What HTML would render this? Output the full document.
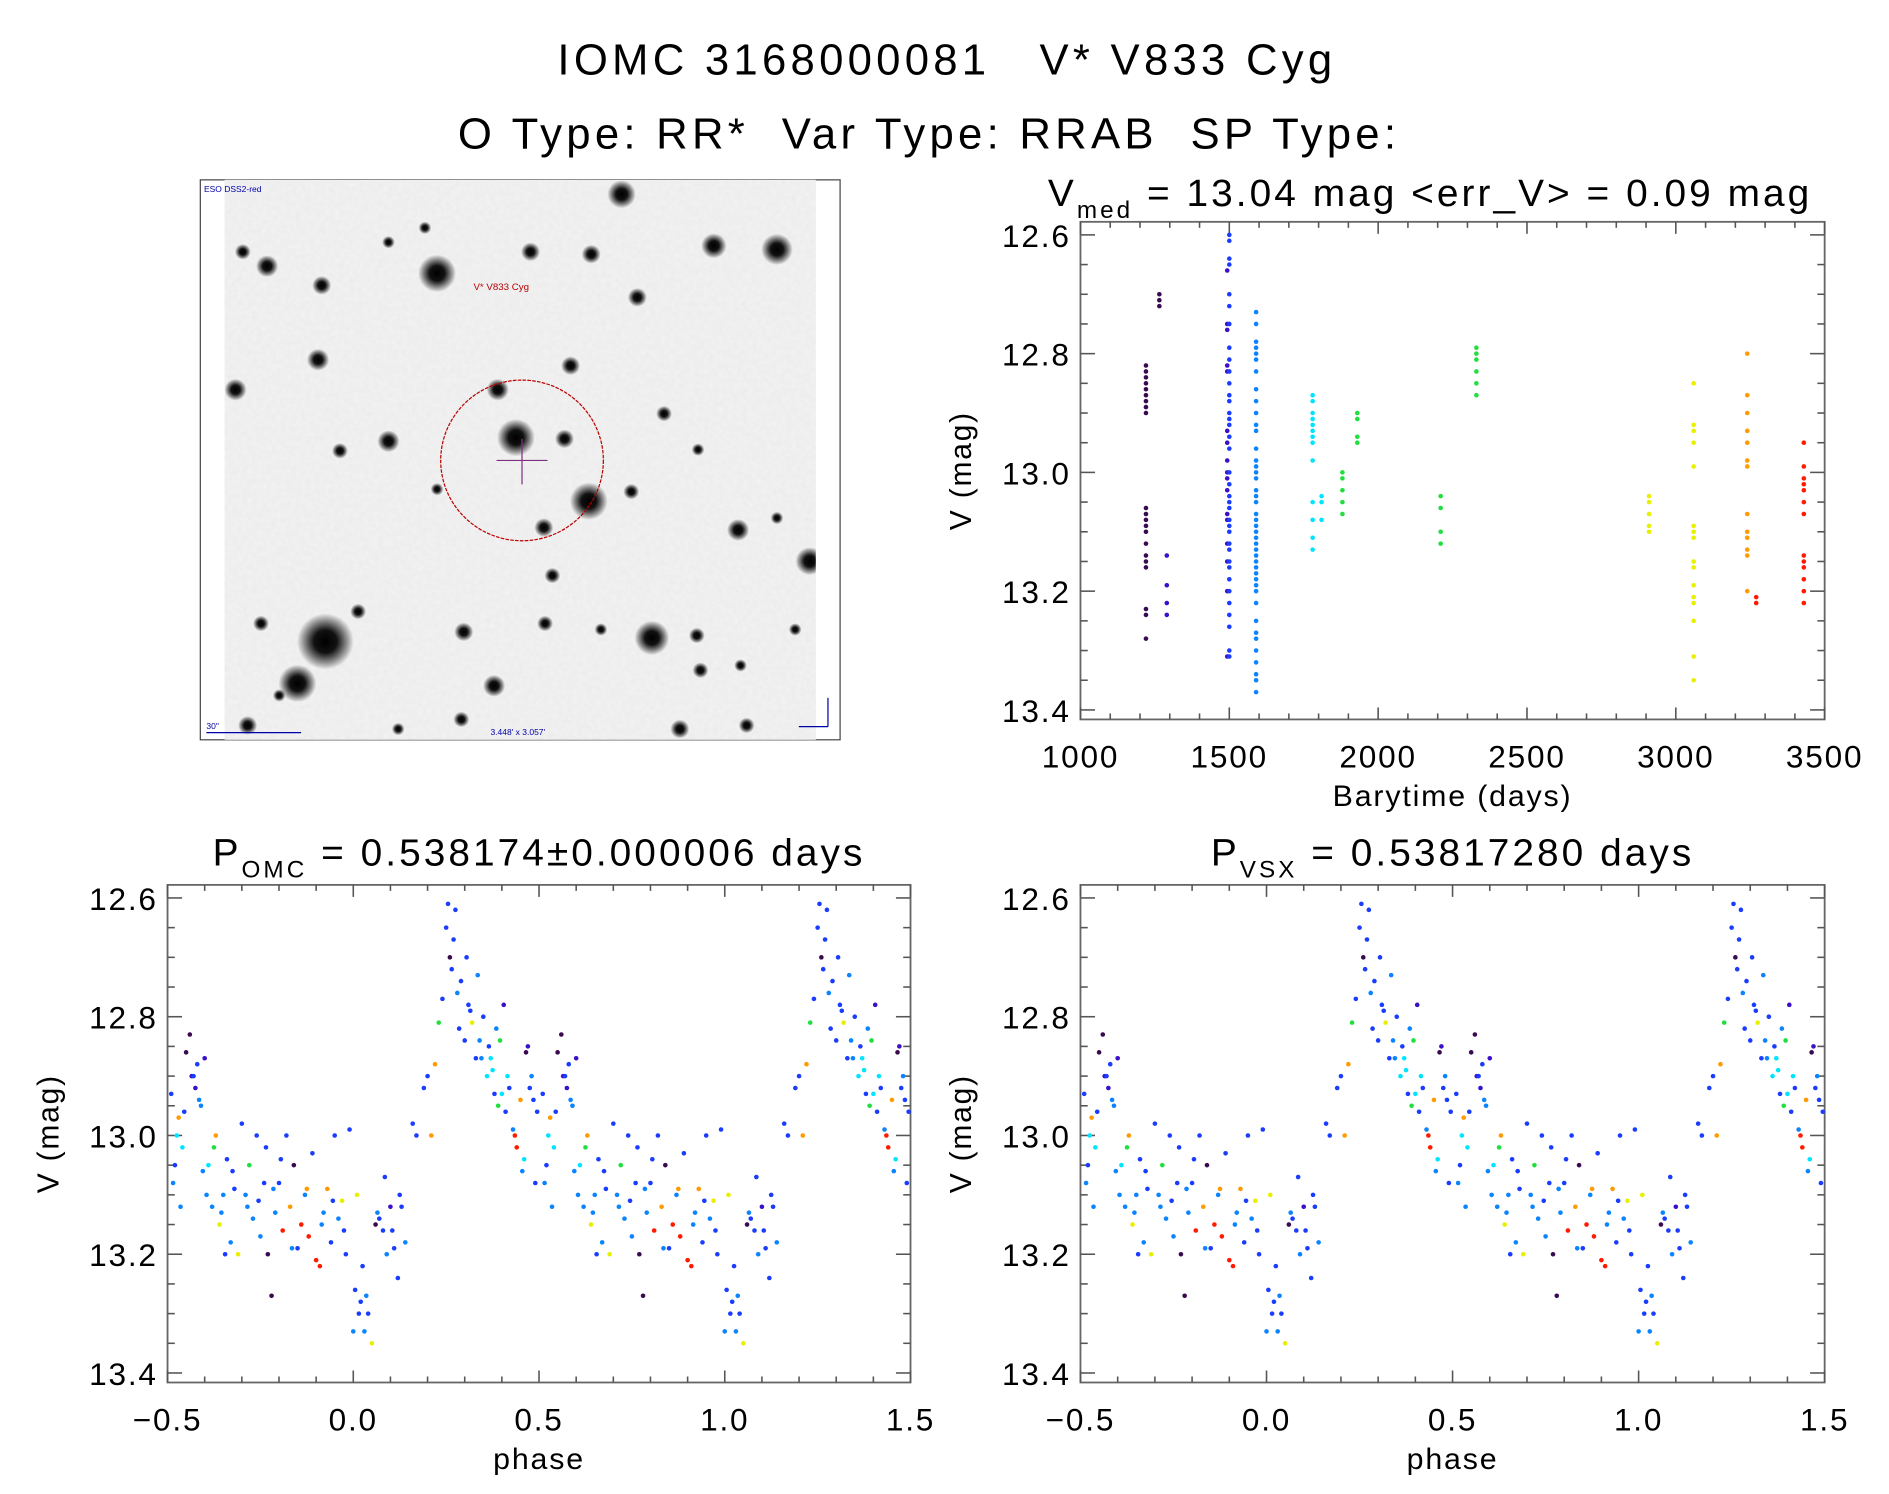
<!DOCTYPE html>
<html><head><meta charset="utf-8"><style>
html,body{margin:0;padding:0;background:#fff;}
svg{display:block;font-family:"Liberation Sans",sans-serif;}
</style></head><body>
<svg id="fig" width="1889" height="1494" viewBox="0 0 1556 1246" preserveAspectRatio="none" xmlns="http://www.w3.org/2000/svg">
<defs>
<filter id="noise" filterUnits="userSpaceOnUse" x="185" y="150" width="487" height="467"><feTurbulence type="fractalNoise" baseFrequency="0.25" numOctaves="2" seed="3"/><feColorMatrix type="matrix" values="0 0 0 0 0.5  0 0 0 0 0.5  0 0 0 0 0.5  0 0 0 0.15 0"/></filter>
<radialGradient id="star"><stop offset="0" stop-color="#000"/><stop offset="0.4" stop-color="#111"/><stop offset="1" stop-color="#000" stop-opacity="0"/></radialGradient>
<clipPath id="imgclip"><rect x="185" y="150" width="487" height="467"/></clipPath>
</defs>
<text x="780" y="62" font-size="36" letter-spacing="3.5" text-anchor="middle" xml:space="preserve">IOMC 3168000081   V* V833 Cyg</text>
<text x="772" y="124" font-size="36" letter-spacing="3.5" text-anchor="middle" xml:space="preserve">O Type: RR*  Var Type: RRAB  SP Type: </text>
<g id="img"></g>
<g id="ts"></g>
<g id="p1"></g>
<g id="p2"></g>
</svg>
<script>
const NS="http://www.w3.org/2000/svg";
const COLORS=["#1a3cff","#0a84ff","#00e5ff","#20e040","#e8f000","#ff9a00","#ff1a00","#3a0a50","#3a10c8"];
// time series clusters: times, color index, mags
const tsTimes=[1220,1265,1290,1493,1500,1590,1780,1810,1880,1930,2210,2330,2910,3060,3240,3270,3430];
const tsColors=[7,7,8,8,0,1,2,2,3,3,3,3,4,4,5,6,6];
const tsMags=[
[12.82,12.83,12.84,12.85,12.86,12.87,12.88,12.89,12.9,13.06,13.07,13.08,13.09,13.1,13.12,13.14,13.15,13.16,13.23,13.24,13.28],
[12.7,12.71,12.72],
[13.14,13.19,13.22,13.24],
[12.66,12.75,12.76,12.82,12.83,12.93,12.95,12.98,13.0,13.01,13.03,13.07,13.08,13.12,13.15,13.2,13.31],
[12.6,12.61,12.64,12.65,12.7,12.72,12.75,12.79,12.81,12.83,12.85,12.87,12.88,12.9,12.91,12.92,12.94,12.96,13.0,13.02,13.04,13.05,13.06,13.08,13.09,13.1,13.12,13.13,13.15,13.16,13.18,13.2,13.22,13.24,13.26,13.3,13.31],
[12.73,12.75,12.78,12.79,12.8,12.81,12.83,12.86,12.88,12.9,12.92,12.93,12.96,12.98,12.99,13.0,13.01,13.03,13.04,13.05,13.07,13.08,13.09,13.1,13.11,13.12,13.13,13.14,13.15,13.16,13.17,13.18,13.19,13.2,13.22,13.25,13.27,13.28,13.3,13.32,13.34,13.35,13.37],
[12.87,12.88,12.9,12.91,12.92,12.93,12.94,12.95,12.98,13.05,13.08,13.11,13.13],
[13.04,13.05,13.08],
[13.0,13.01,13.03,13.05,13.07],
[12.9,12.91,12.94,12.95],
[13.04,13.06,13.1,13.12],
[12.79,12.8,12.81,12.83,12.85,12.87],
[13.04,13.05,13.07,13.09,13.1],
[12.85,12.92,12.93,12.95,12.99,13.09,13.1,13.11,13.15,13.16,13.19,13.21,13.22,13.25,13.31,13.35],
[12.8,12.87,12.9,12.93,12.95,12.98,12.99,13.07,13.1,13.11,13.13,13.14,13.2],
[13.21,13.22],
[12.95,12.99,13.01,13.02,13.03,13.05,13.07,13.14,13.15,13.16,13.18,13.2,13.22]];
// phase-folded points (phase in -0.5..0.5, plotted twice)
const phPhase=[-0.49,-0.485,-0.48,-0.47,-0.465,-0.46,-0.455,-0.45,-0.44,-0.435,-0.43,-0.42,-0.415,-0.41,-0.40,-0.395,-0.39,-0.38,-0.375,-0.37,-0.36,-0.35,-0.345,-0.34,-0.33,-0.32,-0.31,-0.30,-0.29,-0.28,-0.27,-0.26,-0.25,-0.24,-0.235,-0.23,-0.22,-0.21,-0.20,-0.19,-0.18,-0.17,-0.16,-0.15,-0.14,-0.13,-0.12,-0.11,-0.10,-0.09,-0.08,-0.07,-0.06,-0.05,-0.04,-0.03,-0.02,-0.01,0.0,0.005,0.01,0.02,0.025,0.03,0.04,0.05,0.06,0.07,0.08,0.09,0.10,0.11,0.12,0.13,0.14,0.16,0.17,0.19,0.20,0.21,0.22,0.23,0.24,0.25,0.255,0.26,0.265,0.27,0.275,0.28,0.29,0.30,0.305,0.31,0.32,0.33,0.335,0.34,0.35,0.36,0.365,0.37,0.38,0.385,0.39,0.40,0.405,0.41,0.42,0.43,0.44,0.45,0.46,0.465,0.47,0.475,0.48,0.49,0.495,
-0.475,-0.425,-0.405,-0.355,-0.325,-0.285,-0.255,-0.215,-0.195,-0.165,-0.125,-0.085,-0.055,-0.025,0.015,0.035,0.065,0.085,0.105,0.125,0.285,0.315,0.345,0.375,0.395,0.415,0.435,0.455,0.485];
const phMag=[12.93,13.08,13.05,12.97,13.12,13.02,12.96,12.86,12.83,12.9,12.9,12.88,12.94,12.95,12.87,13.1,13.05,13.12,13.02,13.0,13.15,13.1,13.2,13.04,13.18,13.09,13.2,12.98,13.1,13.05,13.14,13.0,13.17,13.08,13.02,13.2,13.27,13.13,13.08,13.16,13.0,13.12,13.05,13.19,13.15,13.1,13.17,13.03,13.21,13.22,13.13,13.09,13.18,13.0,13.14,13.11,13.2,12.99,13.33,13.26,13.1,13.28,13.22,13.33,13.3,13.35,13.15,13.14,13.16,13.2,13.12,13.19,13.24,13.12,13.18,12.98,13.0,12.92,12.9,13.0,12.88,12.81,12.77,12.65,12.61,12.7,12.72,12.67,12.62,12.76,12.74,12.84,12.7,12.78,12.81,12.87,12.73,12.84,12.8,12.9,12.85,12.87,12.93,12.82,12.95,12.93,12.78,12.96,12.92,12.99,13.02,12.94,13.04,12.86,12.85,12.92,12.9,13.08,12.96,
13.0,12.92,13.06,13.13,13.06,13.12,13.11,13.09,13.04,13.19,13.09,13.15,13.11,13.16,13.3,13.27,13.13,13.07,13.16,13.1,12.82,12.79,12.87,12.89,12.84,12.9,13.0,13.06,12.94];
const phCol=[0,1,0,5,1,2,0,7,7,8,0,0,1,1,8,1,2,1,3,5,4,1,0,0,1,0,4,0,1,3,1,0,1,0,0,7,7,1,0,6,0,5,7,0,6,1,6,0,6,6,1,5,0,0,1,4,0,0,1,0,4,0,0,1,0,4,7,0,0,1,8,0,0,0,1,0,0,0,0,5,5,3,0,0,0,7,0,0,0,1,0,0,0,0,4,0,1,1,0,2,0,2,0,1,3,2,8,0,0,1,6,5,2,7,8,0,1,0,0,
2,8,1,1,0,1,0,1,0,1,5,1,0,0,0,1,1,0,0,0,0,0,1,2,3,2,6,1,0];

function el(tag,attrs,parent){const e=document.createElementNS(NS,tag);for(const k in attrs)e.setAttribute(k,attrs[k]);parent.appendChild(e);return e;}

function axes(g,box,xd,yd,xMaj,xMin,yMaj,yMin,xfmt,yfmt,xtitle,ytitle){
  const {x0,x1,y0,y1}=box;
  const X=v=>x0+(v-xd[0])/(xd[1]-xd[0])*(x1-x0);
  const Y=v=>y0+(v-yd[0])/(yd[1]-yd[0])*(y1-y0);
  const fr=el('rect',{x:x0,y:y0,width:x1-x0,height:y1-y0,fill:'none',stroke:'#666','stroke-width':1.5},g);
  
  
  const eps=1e-9;
  for(let v=Math.ceil(xd[0]/xMin-eps)*xMin;v<=xd[1]+eps;v+=xMin){
    const major=Math.abs(v/xMaj-Math.round(v/xMaj))<1e-6;const L=major?10:5;const x=X(v);
    el('line',{x1:x,x2:x,y1:y1,y2:y1-L,stroke:'#555','stroke-width':1.3},g);
    el('line',{x1:x,x2:x,y1:y0,y2:y0+L,stroke:'#555','stroke-width':1.3},g);
  }
  for(let v=Math.ceil(yd[0]/yMin-eps)*yMin;v<=yd[1]+eps;v+=yMin){
    const major=Math.abs(v/yMaj-Math.round(v/yMaj))<1e-6;const L=major?12:6;const y=Y(v);
    el('line',{x1:x0,x2:x0+L,y1:y,y2:y,stroke:'#555','stroke-width':1.3},g);
    el('line',{x1:x1,x2:x1-L,y1:y,y2:y,stroke:'#555','stroke-width':1.3},g);
  }
  xfmt.forEach(v=>{const t=el('text',{x:X(v),y:y1+40,'font-size':26,'letter-spacing':1.5,'text-anchor':'middle'},g);t.textContent=(v<0?'\u2212'+Math.abs(v).toFixed(xd[1]>10?0:1):v.toFixed(xd[1]>10?0:1));
    
    });
  yfmt.forEach(v=>{const t=el('text',{x:x0-8,y:Y(v)+10,'font-size':26,'letter-spacing':1.5,'text-anchor':'end'},g);t.textContent=v.toFixed(1);
    
    });
  const xt=el('text',{x:(x0+x1)/2,y:y1+72,'font-size':25,'letter-spacing':1.5,'text-anchor':'middle'},g);xt.textContent=xtitle;
  
  
  const yt=el('text',{x:0,y:0,'font-size':25,'letter-spacing':1.5,'text-anchor':'middle',transform:`translate(${x0-90},${(y0+y1)/2}) rotate(-90)`},g);yt.textContent=ytitle;
  
  
  return {X,Y};
}
function dot(g,x,y,c){const d=el('circle',{cx:x,cy:y,r:1.9,fill:c},g);
  
  }

// time series
(function(){
  const g=document.getElementById('ts');
  const {X,Y}=axes(g,{x0:890,x1:1503,y0:185,y1:600},[1000,3500],[12.578,13.416],500,100,0.2,0.05,[1000,1500,2000,2500,3000,3500],[12.6,12.8,13.0,13.2,13.4],'Barytime (days)','V (mag)');
  tsTimes.forEach((t,i)=>tsMags[i].forEach(m=>dot(g,X(t),Y(m),COLORS[tsColors[i]])));
  const tt=el('text',{x:1178,y:172,'font-size':32,'letter-spacing':2.5,'text-anchor':'middle'},g);
  tt.innerHTML='V<tspan font-size="20" dy="10">med</tspan><tspan dy="-10">  =  13.04 mag &lt;err_V&gt;  =  0.09 mag</tspan>';
  tt.setAttribute('xml:space','preserve');
  
  
})();
// phase plots
function phasePlot(id,x0,x1,title,sub){
  const g=document.getElementById(id);
  const {X,Y}=axes(g,{x0:x0,x1:x1,y0:738,y1:1153},[-0.5,1.5],[12.578,13.416],0.5,0.1,0.2,0.05,[-0.5,0,0.5,1,1.5],[12.6,12.8,13.0,13.2,13.4],'phase','V (mag)');
  [0,1,2].forEach(k=>phPhase.forEach((p,i)=>{const ph=p+k;if(ph<=1.5)dot(g,X(ph),Y(phMag[i]),COLORS[phCol[i]]);}));
  const tt=el('text',{x:(x0+x1)/2,y:722,'font-size':32,'letter-spacing':2.5,'text-anchor':'middle'},g);
  tt.innerHTML='P<tspan font-size="20" dy="10">'+sub+'</tspan><tspan dy="-10">  =  '+title+'</tspan>';
  
  
}
phasePlot('p1',138,750,'0.538174\u00b10.000006 days','OMC');
phasePlot('p2',890,1503,'0.53817280 days','VSX');

// sky image
(function(){
  const g=document.getElementById('img');
  el('rect',{x:165,y:150,width:527,height:467,fill:'#fff',stroke:'#444','stroke-width':1},g);
  el('rect',{x:185,y:150,width:487,height:467,fill:'#f3f3f3'},g);
  el('rect',{x:185,y:150,width:487,height:467,filter:'url(#noise)'},g);
  const sg=el('g',{'clip-path':'url(#imgclip)'},g);
  const stars=[[512,162,9],[640,208,10],[588,205,8],[360,228,12],[265,238,6],[437,210,6],[487,212,6],[220,222,7],[200,210,5],[525,248,6],[320,202,4],[262,300,7],[194,325,7],[410,325,7],[470,305,6],[320,368,7],[280,376,5],[425,365,12],[465,366,6],[485,418,12],[448,440,6],[360,408,4],[520,410,5],[608,442,7],[667,468,9],[455,480,5],[268,535,18],[245,570,12],[537,532,11],[295,510,5],[382,527,6],[449,520,5],[574,530,5],[407,572,7],[577,559,5],[495,525,4],[215,520,5],[204,605,6],[380,600,5],[560,608,6],[615,605,5],[328,608,4],[230,580,4],[547,345,5],[575,375,4],[350,190,4],[610,555,4],[655,525,4],[640,432,4]];
  stars.forEach(s=>el('circle',{cx:s[0],cy:s[1],r:s[2]*1.3,fill:'url(#star)'},sg));
  el('ellipse',{cx:430,cy:384,rx:67,ry:67,fill:'none',stroke:'#b00','stroke-width':1,'stroke-dasharray':'3,1'},g);
  el('line',{x1:409,x2:451,y1:384,y2:384,stroke:'#803080','stroke-width':1},g);
  el('line',{x1:430,x2:430,y1:366,y2:404,stroke:'#803080','stroke-width':1},g);
  const l=el('text',{x:390,y:242,'font-size':8,fill:'#b00'},g);l.textContent='V* V833 Cyg';
  const s1=el('text',{x:168,y:160,'font-size':7,fill:'#00a'},g);s1.textContent='ESO DSS2-red';
  const s2=el('text',{x:170,y:608,'font-size':7,fill:'#00a'},g);s2.textContent='30"';
  el('line',{x1:170,x2:248,y1:611,y2:611,stroke:'#00a','stroke-width':1},g);
  const s3=el('text',{x:404,y:613,'font-size':7,fill:'#00a'},g);s3.textContent="3.448' x 3.057'";
  el('line',{x1:682,x2:682,y1:582,y2:606,stroke:'#00a','stroke-width':1},g);
  el('line',{x1:658,x2:682,y1:606,y2:606,stroke:'#00a','stroke-width':1},g);
})();
</script>
</body></html>
